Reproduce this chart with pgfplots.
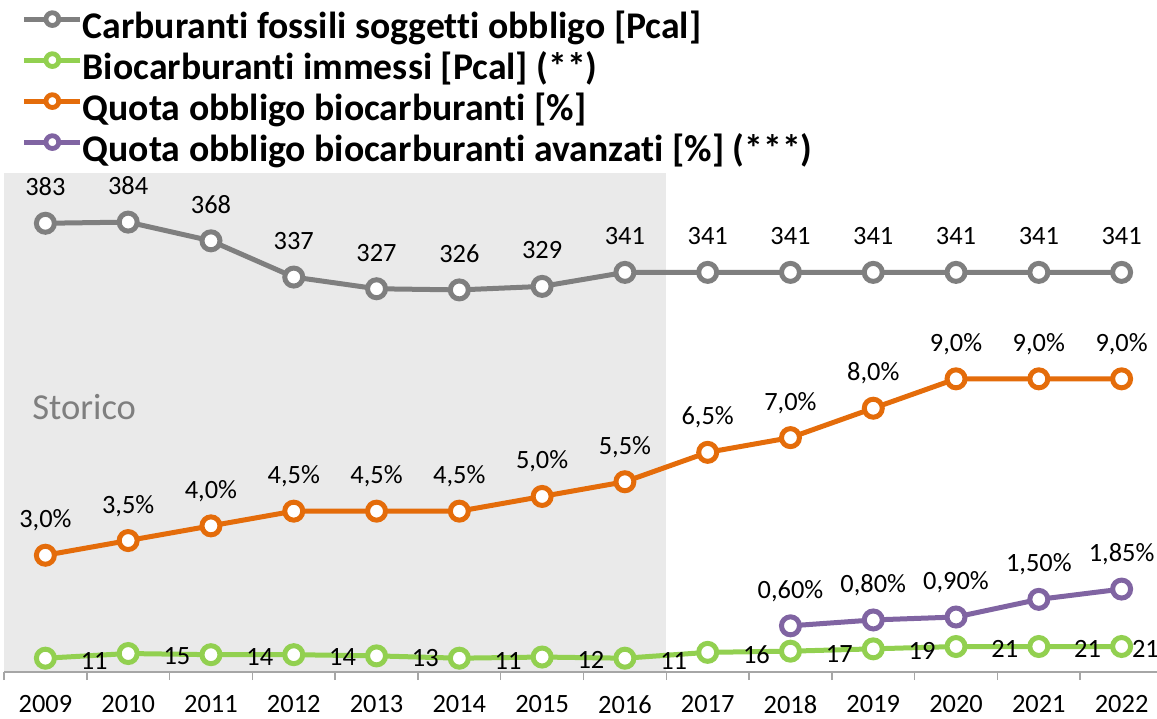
\documentclass[border=0pt]{standalone}
\usepackage{fontspec}
\setmainfont{Carlito}[Ligatures=NoCommon]
\usepackage{pgfplots}
\pgfplotsset{compat=1.18}
\definecolor{cfoss}{RGB}{127,127,127}
\definecolor{cbio}{RGB}{146,208,80}
\definecolor{cquota}{RGB}{228,108,10}
\definecolor{cavanz}{RGB}{128,100,162}
\definecolor{shade}{RGB}{234,234,234}
\definecolor{axgray}{RGB}{166,166,166}
\pgfplotsset{/pgf/number format/assume math mode=true}
\tikzset{lbl/.style={font=\fontsize{13.2}{15}\selectfont, text=black, inner sep=0pt}}

\begin{document}
\begin{tikzpicture}
\pgfplotsset{
  every axis/.append style={scale only axis, width=579.5pt, height=249.5pt,
    at={(2pt,23pt)}, anchor=south west, xmin=-0.5, xmax=13.5, clip=false},
  serie/.style={line width=2.5pt, color=#1, mark=*, mark size=4.5pt,
    mark options={fill=white, draw=#1, line width=2.5pt}},
}
% asse principale: Pcal
\begin{axis}[
  ymin=-0.8, ymax=426,
  axis on top,
  axis x line*=bottom, axis y line=none,
  x axis line style={draw=axgray, line width=0.75pt},
  xtick={0,...,13},
  xticklabels={2009,2010,2011,2012,2013,2014,2015,2016,2017,2018,2019,2020,2021,2022},
  major tick length=0pt,
  minor xtick={-0.5,0.5,...,13.5}, minor tick length=4pt, tick align=outside,
  minor tick style={draw=axgray, line width=0.75pt},
  xticklabel style={lbl, anchor=north, yshift=-11.5pt},
  legend cell align=left,
  legend style={at={(axis description cs:0.0155,1.3226)}, anchor=north west,
    draw=none, fill=none, inner sep=0pt, outer sep=0pt, row sep=3pt,
    /tikz/every even column/.append style={column sep=2pt},
    font=\bfseries\fontsize{18.85}{22}\selectfont,
    nodes={inner sep=0pt, text height=13pt, text depth=4.5pt}},
  legend image code/.code={\draw[#1, line width=2.4pt, mark size=3.2pt,
    every mark/.append style={line width=2.4pt}, mark repeat=2, mark phase=2]
    plot coordinates {(0pt,5.2pt)(14pt,5.2pt)(28pt,5.2pt)};},
]
\addplot[fill=shade, draw=none, forget plot] coordinates {(-0.5,426) (7.5,426)} \closedcycle;
\node[anchor=base west, inner sep=0pt, text=cfoss, font=\fontsize{18.3}{21}\selectfont]
  at (axis cs:-0.162,215.5) {Storico};

\addplot[serie=cfoss, nodes near coords,
  every node near coord/.append style={lbl, anchor=base, yshift=13.75pt}]
  coordinates {(0,383) (1,384) (2,368) (3,337) (4,327) (5,326) (6,329)
    (7,341) (8,341) (9,341) (10,341) (11,341) (12,341) (13,341)};

\addplot[serie=cbio]
  coordinates {(0,11) (1,15) (2,14) (3,14) (4,13) (5,11) (6,12)
    (7,11) (8,16) (9,17) (10,19) (11,21) (12,21) (13,21)};
\addplot[draw=none, forget plot, nodes near coords,
  every node near coord/.append style={lbl, anchor=base west, xshift=17.5pt, yshift=-5.5pt}]
  coordinates {(0,11) (1,15) (2,14) (3,14) (4,13) (5,11) (6,12)
    (7,11) (8,16) (9,17) (10,19) (11,21) (12,21)};
\addplot[draw=none, forget plot, nodes near coords,
  every node near coord/.append style={lbl, anchor=base west, xshift=5pt, yshift=-5.5pt}]
  coordinates {(13,21)};

\addlegendimage{serie=cquota}
\addlegendimage{serie=cavanz}
\legend{Carburanti fossili soggetti obbligo [Pcal],
  Biocarburanti immessi [Pcal] (**),
  Quota obbligo biocarburanti [\%],
  Quota obbligo biocarburanti avanzati [\%] (***)}
\end{axis}

% asse secondario: quote %
\begin{axis}[
  ymin=-0.97, ymax=16,
  axis lines=none,
]
\addplot[serie=cquota, nodes near coords, point meta=explicit symbolic,
  every node near coord/.append style={lbl, anchor=base, yshift=13.75pt}]
  coordinates {(0,3.0) [3,0\%] (1,3.5) [3,5\%] (2,4.0) [4,0\%] (3,4.5) [4,5\%]
    (4,4.5) [4,5\%] (5,4.5) [4,5\%] (6,5.0) [5,0\%] (7,5.5) [5,5\%]
    (8,6.5) [6,5\%] (9,7.0) [7,0\%] (10,8.0) [8,0\%] (11,9.0) [9,0\%]
    (12,9.0) [9,0\%] (13,9.0) [9,0\%]};
\addplot[serie=cavanz, nodes near coords, point meta=explicit symbolic,
  every node near coord/.append style={lbl, anchor=base, yshift=13.75pt}]
  coordinates {(9,0.60) [0,60\%] (10,0.80) [0,80\%] (11,0.90) [0,90\%]
    (12,1.50) [1,50\%] (13,1.85) [1,85\%]};
\end{axis}
\pgfresetboundingbox
\useasboundingbox (0,0) rectangle (578.5pt,359pt);
\end{tikzpicture}
\end{document}
